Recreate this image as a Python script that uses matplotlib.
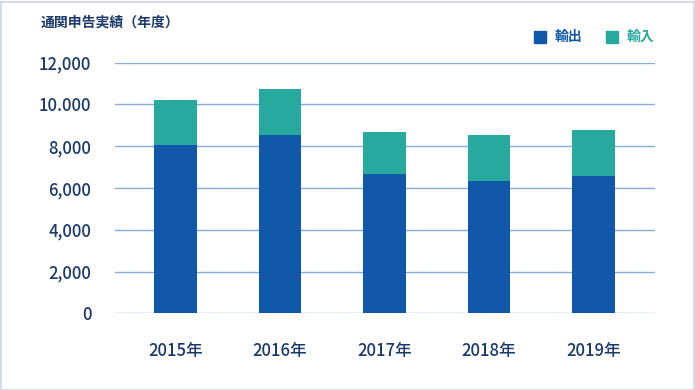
import numpy as np
import matplotlib.pyplot as plt
from matplotlib.patches import Rectangle

plt.rcParams['font.family'] = ['Noto Sans CJK JP', 'DejaVu Sans']

# data
years = ['2015年', '2016年', '2017年', '2018年', '2019年']
exports = [8060, 8540, 6680, 6350, 6590]
imports = [2130, 2220, 2000, 2190, 2190]
yticks = [0, 2000, 4000, 6000, 8000, 10000, 12000]
ytick_labels = ['0', '2,000', '4,000', '6,000', '8,000', '10.000', '12,000']

blue = '#1157aa'
teal = '#27a99e'
navy = '#1b3a6b'
grid = '#86acdc'

W, H = 695, 390
fig = plt.figure(figsize=(W / 100, H / 100), dpi=100)
fig.patch.set_facecolor('white')

# light frame round the picture
fig.add_artist(Rectangle((0.5 / W, 0.5 / H), 1 - 2 / W, 1 - 2 / H, transform=fig.transFigure,
                         fill=False, edgecolor='#d3dbe6', linewidth=1.5))

ax = fig.add_axes([115 / W, (H - 313.3) / H, 540 / W, 250.6 / H])
x = np.arange(len(years))
ax.bar(x, exports, width=0.41, color=blue, zorder=3)
ax.bar(x, imports, width=0.41, bottom=exports, color=teal, zorder=3)

ax.set_ylim(0, 12000)
ax.set_xlim(-0.579, 4.589)
ax.set_yticks(yticks)
ax.set_yticklabels(ytick_labels)
ax.set_xticks(x)
ax.set_xticklabels(years)
for v in yticks:
    ax.axhline(v, color=grid, linewidth=1, zorder=1)

for s in ax.spines.values():
    s.set_visible(False)
ax.tick_params(axis='both', length=0, colors=navy, labelsize=12)
ax.tick_params(axis='y', pad=17)
ax.tick_params(axis='x', pad=21)
for lab in ax.get_xticklabels() + ax.get_yticklabels():
    lab.set_fontweight(500)

# title and legend
fig.text(41 / W, 1 - 23 / H, '通関申告実績（年度）', fontsize=10, fontweight='bold',
         color=navy, va='center', ha='left')
fig.add_artist(Rectangle((534 / W, 1 - 43 / H), 12 / W, 12 / H, transform=fig.transFigure,
                         color=blue))
fig.text(555 / W, 1 - 37 / H, '輸出', fontsize=10, fontweight='bold', color=blue,
         va='center', ha='left')
fig.add_artist(Rectangle((606 / W, 1 - 43 / H), 12 / W, 12 / H, transform=fig.transFigure,
                         color=teal))
fig.text(627 / W, 1 - 37 / H, '輸入', fontsize=10, fontweight='bold', color=teal,
         va='center', ha='left')

fig.savefig('out.png', dpi=100)
